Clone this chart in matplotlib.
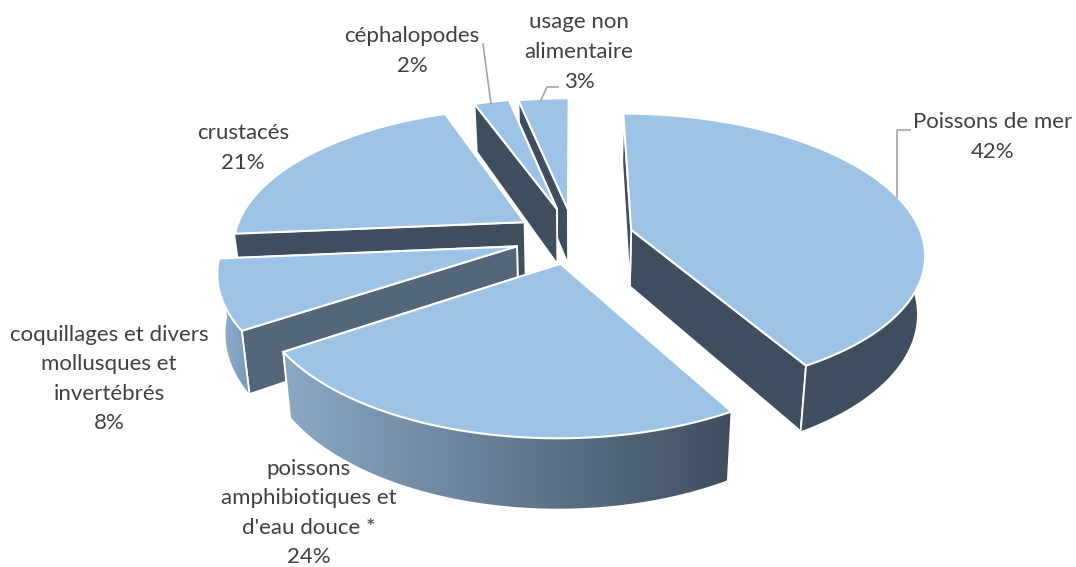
import numpy as np
from matplotlib import pyplot as plt
from matplotlib.colors import LinearSegmentedColormap
from matplotlib.patches import Polygon

plt.rcParams["font.family"] = ["Lato", "DejaVu Sans"]

categories = [
    "Poissons de mer",
    "poissons\namphibiotiques et\nd'eau douce *",
    "coquillages et divers\nmollusques et\ninvertébrés",
    "crustacés",
    "céphalopodes",
    "usage non\nalimentaire",
]
# unrounded shares, labels show them rounded
shares = [41.8, 24.0, 7.9, 20.8, 2.3, 3.3]

# layout of the fake 3d pie, in pixels
CX, CY = 574, 237
RX, RY = 291, 137
PERSP = 0.16
DEPTH = 57
BOTTOM_SHRINK = 0.977
explode = [0.205, 0.195, 0.205, 0.205, 0.22, 0.21]

TOP = "#9dc3e6"
DARK = "#3f4f5f"
wall_colors = [
    (DARK, DARK),
    ("#8ba8c6", DARK),
    ("#8fb0d0", "#7b9aba"),
    (DARK, DARK),
    (DARK, DARK),
    (DARK, DARK),
]
cut_colors = [DARK, DARK, "#53667a", DARK, DARK, DARK]
label_pos = [(993, 137), (309, 513), (109, 379), (243, 148), (412, 51), (579, 52)]
draw_order = [5, 4, 3, 0, 2, 1]

fig = plt.figure(figsize=(10.76, 5.67), dpi=100)
ax = fig.add_axes([0, 0, 1, 1])
ax.set_xlim(0, 1076)
ax.set_ylim(567, 0)
ax.axis("off")


def project(t, r, mid, e, low=False):
    mx = r * np.sin(t) + e * np.sin(mid)
    my = r * np.cos(t) + e * np.cos(mid)
    s = 1 / (1 + PERSP * my)
    x = CX + RX * mx * s
    y = CY - RY * my * s
    if low:
        x = CX + (x - CX) * BOTTOM_SHRINK
        y = y + DEPTH * s
    return np.column_stack([x, y])


def gradient_fill(pts, left, right, zorder):
    cmap = LinearSegmentedColormap.from_list("wall", [left, right])
    x0, x1 = pts[:, 0].min(), pts[:, 0].max()
    y0, y1 = pts[:, 1].min(), pts[:, 1].max()
    im = ax.imshow(
        np.linspace(0, 1, 256)[None, :],
        cmap=cmap,
        extent=(x0, x1, y1, y0),
        aspect="auto",
        zorder=zorder,
    )
    im.set_clip_path(Polygon(pts, transform=ax.transData))


edges = np.cumsum([0] + shares) / sum(shares) * 2 * np.pi
for z, i in enumerate(draw_order):
    t0, t1 = edges[i], edges[i + 1]
    mid = (t0 + t1) / 2
    e = explode[i]
    ts = np.linspace(t0, t1, 120)
    rim = project(ts, 1.0, mid, e)
    rim_low = project(ts, 1.0, mid, e, low=True)
    apex = project(np.array([0.0]), 0.0, mid, e)
    apex_low = project(np.array([0.0]), 0.0, mid, e, low=True)
    base = z * 10 + 1

    # both cut faces, the top hides whichever one faces away
    for k in (-1, 0):
        face = np.vstack([apex, rim[k], rim_low[k], apex_low])
        ax.add_patch(Polygon(face, fc=cut_colors[i], ec="white", lw=1.3, zorder=base))

    # outer wall, only the part turned to the viewer
    front = np.cos(ts) < 0.4
    if front.any():
        wall = np.vstack([rim[front], rim_low[front][::-1]])
        gradient_fill(wall, *wall_colors[i], base + 1)

    # white seam where a cut face meets the outer wall
    for k in (-1, 0):
        if np.cos(ts[k]) < -0.3:
            ax.plot([rim[k, 0], rim_low[k, 0]], [rim[k, 1], rim_low[k, 1]],
                    color="white", lw=1.3, zorder=base + 1.5)

    top = np.vstack([apex, rim])
    ax.add_patch(Polygon(top, fc=TOP, ec="white", lw=1.5, zorder=base + 2))

for cat, share, (lx, ly) in zip(categories, shares, label_pos):
    ax.text(lx, ly, f"{cat}\n{round(share)}%", ha="center", va="center", fontsize=16,
            color="#404040", linespacing=1.6, zorder=200)

# leader lines
for xs, ys in (
    ([897, 897, 910], [197, 130, 130]),
    ([483, 491], [44, 104]),
    ([541, 547, 558], [100, 87, 87]),
):
    ax.plot(xs, ys, color="#a6a6a6", lw=1.2, zorder=150)

ax.set_xlim(0, 1076)
ax.set_ylim(567, 0)
fig.savefig("out.png", dpi=100)
